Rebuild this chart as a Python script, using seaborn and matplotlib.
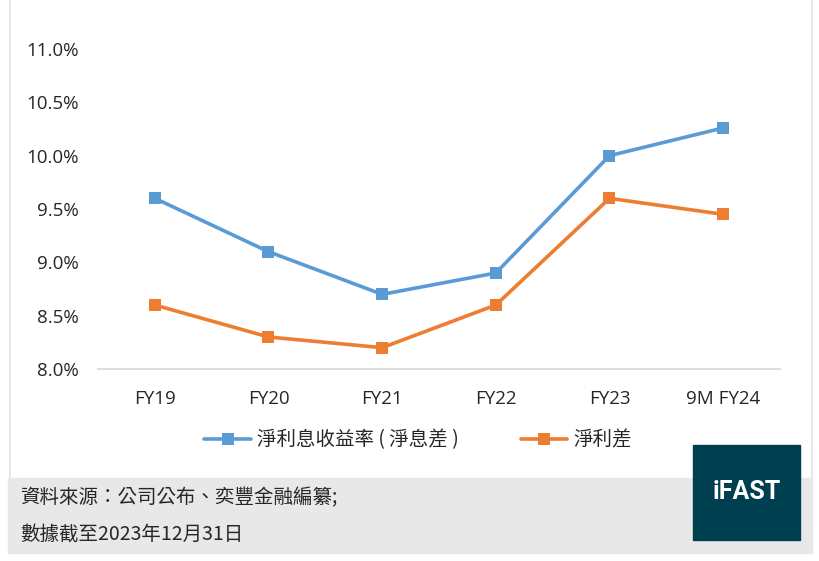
import matplotlib
matplotlib.use("Agg")
import matplotlib.pyplot as plt
import matplotlib.patches as patches
import seaborn as sns
import pandas as pd
from matplotlib.ticker import FuncFormatter

years = ["FY19", "FY20", "FY21", "FY22", "FY23", "9M FY24"]
nim = [9.6, 9.1, 8.7, 8.9, 10.0, 10.26]
spread = [8.6, 8.3, 8.2, 8.6, 9.6, 9.45]
series_names = ["淨利息收益率 ( 淨息差 )", "淨利差"]
colors = ["#5B9BD5", "#ED7D31"]
y_ticks = [8.0, 8.5, 9.0, 9.5, 10.0, 10.5, 11.0]
source_lines = ["資料來源：公司公布、奕豐金融編纂;", "數據截至2023年12月31日"]

sns.set_theme(style="white")
plt.rcParams["font.family"] = ["Open Sans", "Noto Sans CJK TC", "DejaVu Sans"]
cjk = ["Noto Sans CJK TC", "DejaVu Sans"]

fig = plt.figure(figsize=(8.2, 5.61), dpi=100)
ax = fig.add_axes([98 / 820, 1 - 369 / 561, 682 / 820, 320 / 561])

df = pd.DataFrame({"year": years, "nim": nim, "spread": spread})
for col, name, c in zip(["nim", "spread"], series_names, colors):
    sns.lineplot(data=df, x="year", y=col, ax=ax, color=c, linewidth=2.6,
                 marker="s", markersize=8, markeredgewidth=0, label=name, sort=False)

ax.set_xlim(-0.5, len(years) - 0.5)
ax.set_ylim(8.0, 11.0)
ax.set_yticks(y_ticks)
ax.yaxis.set_major_formatter(FuncFormatter(lambda v, p: f"{v:.1f}%"))
ax.set_xlabel("")
ax.set_ylabel("")
ax.tick_params(axis="y", length=0, pad=14, labelsize=13.5, colors="#262626")
ax.tick_params(axis="x", length=0, pad=15, labelsize=13.5, colors="#262626")
for s in ["top", "right", "left"]:
    ax.spines[s].set_visible(False)
ax.spines["bottom"].set_color("#D9D9D9")
ax.grid(False)

handles, labels = ax.get_legend_handles_labels()
ax.get_legend().remove()
fig.legend(handles, labels, loc="center", bbox_to_anchor=(418 / 820, 1 - 440 / 561),
           ncol=2, frameon=False, prop={"family": cjk, "size": 14},
           columnspacing=3.2, handlelength=2.4, handletextpad=0.3)

# footer band
fig.patches.append(patches.Rectangle((8 / 820, 1 - 553 / 561), 804 / 820, 75 / 561,
                                     transform=fig.transFigure, color="#E8E8E8", zorder=0))
# thin border lines of the chart area
for xl in [10 / 820, 812 / 820]:
    fig.add_artist(plt.Line2D([xl, xl], [1 - 478 / 561, 1.0], transform=fig.transFigure,
                              color="#E3E3E3", linewidth=1.2))
fig.text(20 / 820, 1 - 498 / 561, source_lines[0], family=cjk, fontsize=14,
         color="#262626", va="center", ha="left")
fig.text(20 / 820, 1 - 535 / 561, source_lines[1], family=cjk, fontsize=14,
         color="#262626", va="center", ha="left")

# logo box
fig.patches.append(patches.Rectangle((693 / 820, 1 - 540 / 561), 107 / 820, 95 / 561,
                                     transform=fig.transFigure, color="#003F4F", zorder=2))
fig.text(747 / 820, 1 - 492 / 561, "iFAST", family=["Roboto", "DejaVu Sans"],
         fontsize=18, fontweight="bold", color="white", ha="center", va="center", zorder=3)

fig.savefig("out.png", dpi=100, facecolor="white")
